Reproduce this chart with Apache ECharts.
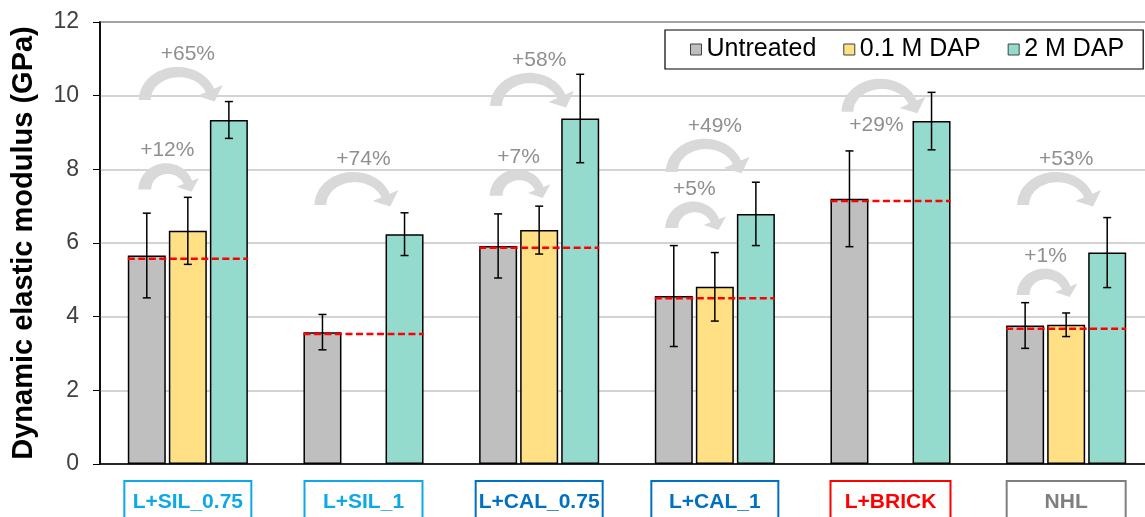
<!DOCTYPE html>
<html>
<head>
<meta charset="utf-8">
<script src="https://cdn.jsdelivr.net/npm/echarts@6/dist/echarts.min.js"></script>
<style>
  html, body { margin: 0; padding: 0; background: #fff; }
  #chart { width: 1145px; height: 517px; }
</style>
</head>
<body>
<div id="chart"></div>
<script>
// Mortar groups along the x axis
const categories = ['L+SIL_0.75', 'L+SIL_1', 'L+CAL_0.75', 'L+CAL_1', 'L+BRICK', 'NHL'];

// Dynamic elastic modulus (GPa) and standard deviations
const untreated   = [5.66, 3.58, 5.92, 4.56, 7.20, 3.76];
const untreatedSd = [1.15, 0.48, 0.87, 1.37, 1.30, 0.62];
const dap01       = [6.33, null, 6.35, 4.81, null, 3.78];
const dap01Sd     = [0.91, null, 0.65, 0.93, null, 0.32];
const dap2        = [9.34, 6.24, 9.38, 6.79, 9.31, 5.74];
const dap2Sd      = [0.50, 0.58, 1.20, 0.86, 0.78, 0.95];

// Untreated reference level drawn as a dashed line across each group
const refLevels = [5.57, 3.53, 5.87, 4.50, 7.14, 3.67];

// Gain arrows: group, target bar (1 = 0.1 M DAP, 2 = 2 M DAP), base level, label
const arrowGroups  = [0, 0, 1, 2, 2, 3, 3, 4, 5, 5];
const arrowTargets = [2, 1, 2, 2, 1, 2, 1, 2, 2, 1];
const arrowLevels  = [9.88, 7.45, 7.03, 9.72, 7.28, 7.93, 6.41, 9.56, 7.03, 4.59];
const arrowLabels  = ['+65%', '+12%', '+74%', '+58%', '+7%', '+49%', '+5%', '+29%', '+53%', '+1%'];
const arrowLabelBelow = [false, false, false, false, false, false, false, true, false, false];

// Y axis ticks
const yMin = 0, yMax = 12, yStep = 2;

const FONT = "'Liberation Sans', Arial, sans-serif";
const BAR_W = 38;
const BAR_GAP = 3.04;
const BAR_STEP = BAR_W + BAR_GAP;

const labelStyles = [
  { color: '#0fa8e6', w: 131 },
  { color: '#0fa8e6', w: 122 },
  { color: '#0070c0', w: 131 },
  { color: '#0070c0', w: 131 },
  { color: '#ff0000', w: 124 },
  { color: '#7f7f7f', w: 123 }
];
const rich = {};
labelStyles.forEach((s, i) => {
  rich['c' + i] = {
    color: s.color, borderColor: s.color, borderWidth: 2,
    fontFamily: FONT, fontWeight: 'bold', fontSize: 21, lineHeight: 24,
    padding: [11, 0, 20, 0], width: s.w - 4, align: 'center'
  };
});

const errData = [];
[[untreated, untreatedSd], [dap01, dap01Sd], [dap2, dap2Sd]].forEach((pair, slot) => {
  pair[0].forEach((v, i) => {
    if (v != null) errData.push([i, slot, v, pair[1][i]]);
  });
});
const refData = refLevels.map((v, i) => [i, v]);
const arrowData = arrowGroups.map((g, i) => [g, arrowTargets[i], arrowLevels[i]]);

function arrowPolygon(x0, x1, cy, ry, tL, tR, hw, hl) {
  const te = 20 * Math.PI / 180;
  const rx = (x1 - x0) / (1 + Math.cos(te));
  const cx = x0 + rx;
  const N = 40;
  const outer = [], inner = [];
  for (let i = 0; i <= N; i++) {
    const th = Math.PI + (te - Math.PI) * i / N;
    const t = tL + (tR - tL) * i / N;
    const px = cx + rx * Math.cos(th), py = cy - ry * Math.sin(th);
    let nx = Math.cos(th) / rx, ny = -Math.sin(th) / ry;
    const nl = Math.hypot(nx, ny); nx /= nl; ny /= nl;
    outer.push([px + nx * t / 2, py + ny * t / 2]);
    inner.push([px - nx * t / 2, py - ny * t / 2]);
  }
  const ex = cx + rx * Math.cos(te), ey = cy - ry * Math.sin(te);
  let dx = rx * Math.sin(te), dy = ry * Math.cos(te);
  const dl = Math.hypot(dx, dy); dx /= dl; dy /= dl;
  let nx = Math.cos(te) / rx, ny = -Math.sin(te) / ry;
  const nl = Math.hypot(nx, ny); nx /= nl; ny /= nl;
  const head = [[ex + nx * hw, ey + ny * hw], [ex + dx * hl, ey + dy * hl], [ex - nx * hw, ey - ny * hw]];
  return outer.concat(head, inner.reverse());
}

const chart = echarts.init(document.getElementById('chart'), null, { renderer: 'canvas' });

const barBase = {
  type: 'bar',
  barWidth: BAR_W,
  barGap: '8%',
  z: 2,
  silent: true
};

chart.setOption({
  animation: false,
  textStyle: { fontFamily: FONT },
  grid: {
    left: 100, top: 22, width: 1054, height: 442,
    containLabel: false,
    outerBoundsMode: 'none',
    show: true, borderColor: '#000', borderWidth: 1.5, backgroundColor: 'transparent'
  },
  legend: {
    data: ['Untreated', '0.1 M DAP', '2 M DAP'],
    left: 665, top: 30,
    width: 470,
    orient: 'horizontal',
    padding: [7, 19, 7, 25],
    itemGap: 27,
    itemWidth: 11, itemHeight: 11,
    itemTextGap: 3,
    icon: 'rect',
    borderColor: '#000', borderWidth: 1.2,
    backgroundColor: '#fff',
    itemStyle: { borderColor: '#404040', borderWidth: 1 },
    textStyle: { fontFamily: FONT, fontSize: 25, color: '#000' }
  },
  xAxis: {
    type: 'category',
    data: categories,
    axisLine: { lineStyle: { color: '#000', width: 1.5 } },
    axisTick: { show: false },
    axisLabel: {
      interval: 0,
      margin: 31,
      formatter: (v, i) => '{c' + i + '|' + v + '}',
      rich: rich
    }
  },
  yAxis: {
    type: 'value',
    min: yMin, max: yMax, interval: yStep,
    name: 'Dynamic elastic modulus (GPa)',
    nameLocation: 'middle',
    nameGap: 62,
    nameRotate: 90,
    nameTextStyle: { fontFamily: FONT, fontSize: 29, fontWeight: 'bold', color: '#000' },
    axisLine: { show: true, lineStyle: { color: '#000', width: 1.5 } },
    axisTick: { show: true, length: 7, lineStyle: { color: '#000', width: 1 } },
    axisLabel: { fontFamily: FONT, fontSize: 23, color: '#404040', margin: 21 },
    splitLine: { lineStyle: { color: '#c4c4c4', width: 1.5 } }
  },
  series: [
    Object.assign({}, barBase, {
      name: 'Untreated', data: untreated,
      itemStyle: { color: '#bfbfbf', borderColor: '#000', borderWidth: 1.5 }
    }),
    Object.assign({}, barBase, {
      name: '0.1 M DAP', data: dap01,
      itemStyle: { color: '#ffe084', borderColor: '#000', borderWidth: 1.5 }
    }),
    Object.assign({}, barBase, {
      name: '2 M DAP', data: dap2,
      itemStyle: { color: '#95dbcd', borderColor: '#000', borderWidth: 1.5 }
    }),
    {
      // dashed reference level of the untreated mortar
      type: 'custom', name: 'ref', silent: true, z: 5, clip: false,
      data: refData,
      encode: { x: 0, y: 1 },
      renderItem: (params, api) => {
        const p = api.coord([api.value(0), api.value(1)]);
        const half = BAR_STEP + BAR_W / 2;
        return {
          type: 'line',
          shape: { x1: p[0] - half, y1: p[1], x2: p[0] + half, y2: p[1] },
          style: { stroke: '#ff0000', lineWidth: 2.5, lineDash: [7, 3.5] }
        };
      }
    },
    {
      // standard deviation whiskers
      type: 'custom', name: 'err', silent: true, z: 6, clip: false,
      data: errData,
      encode: { x: 0, y: 2 },
      renderItem: (params, api) => {
        const cat = api.value(0), slot = api.value(1), v = api.value(2), sd = api.value(3);
        const top = api.coord([cat, v + sd]);
        const bot = api.coord([cat, v - sd]);
        const x = top[0] + (slot - 1) * BAR_STEP;
        const st = { stroke: '#000', lineWidth: 1.5 };
        return {
          type: 'group',
          children: [
            { type: 'line', shape: { x1: x, y1: top[1], x2: x, y2: bot[1] }, style: st },
            { type: 'line', shape: { x1: x - 4, y1: top[1], x2: x + 4, y2: top[1] }, style: st },
            { type: 'line', shape: { x1: x - 4, y1: bot[1], x2: x + 4, y2: bot[1] }, style: st }
          ]
        };
      }
    },
    {
      // curved gain arrows with percentage labels
      type: 'custom', name: 'gain', silent: true, z: 4, clip: false,
      data: arrowData,
      encode: { x: 0, y: 2 },
      renderItem: (params, api) => {
        const i = params.dataIndex;
        const cat = api.value(0), target = api.value(1), level = api.value(2);
        const p = api.coord([cat, level]);
        const grayX = p[0] - BAR_STEP;
        const targetX = p[0] + (target - 1) * BAR_STEP;
        const longArrow = target === 2;
        const x0 = grayX - 2;
        const x1 = longArrow ? targetX - 19 : targetX;
        const ry = longArrow ? 28 : 21;
        const pts = longArrow
          ? arrowPolygon(x0, x1, p[1], ry, 12, 9, 14, 12)
          : arrowPolygon(x0, x1, p[1], ry, 13, 9, 12, 10);
        const below = arrowLabelBelow[i];
        const lx = (grayX + targetX) / 2 + (below ? -14 : 0);
        const ly = below ? p[1] + 13 : p[1] - ry - 18;
        return {
          type: 'group',
          children: [
            { type: 'polygon', shape: { points: pts }, style: { fill: '#d9d9d9' } },
            {
              type: 'text', x: lx, y: ly,
              style: {
                text: arrowLabels[i], fill: '#8f8f8f', fontFamily: FONT, fontSize: 21,
                align: 'center', verticalAlign: 'middle'
              }
            }
          ]
        };
      }
    }
  ]
});
</script>
</body>
</html>
